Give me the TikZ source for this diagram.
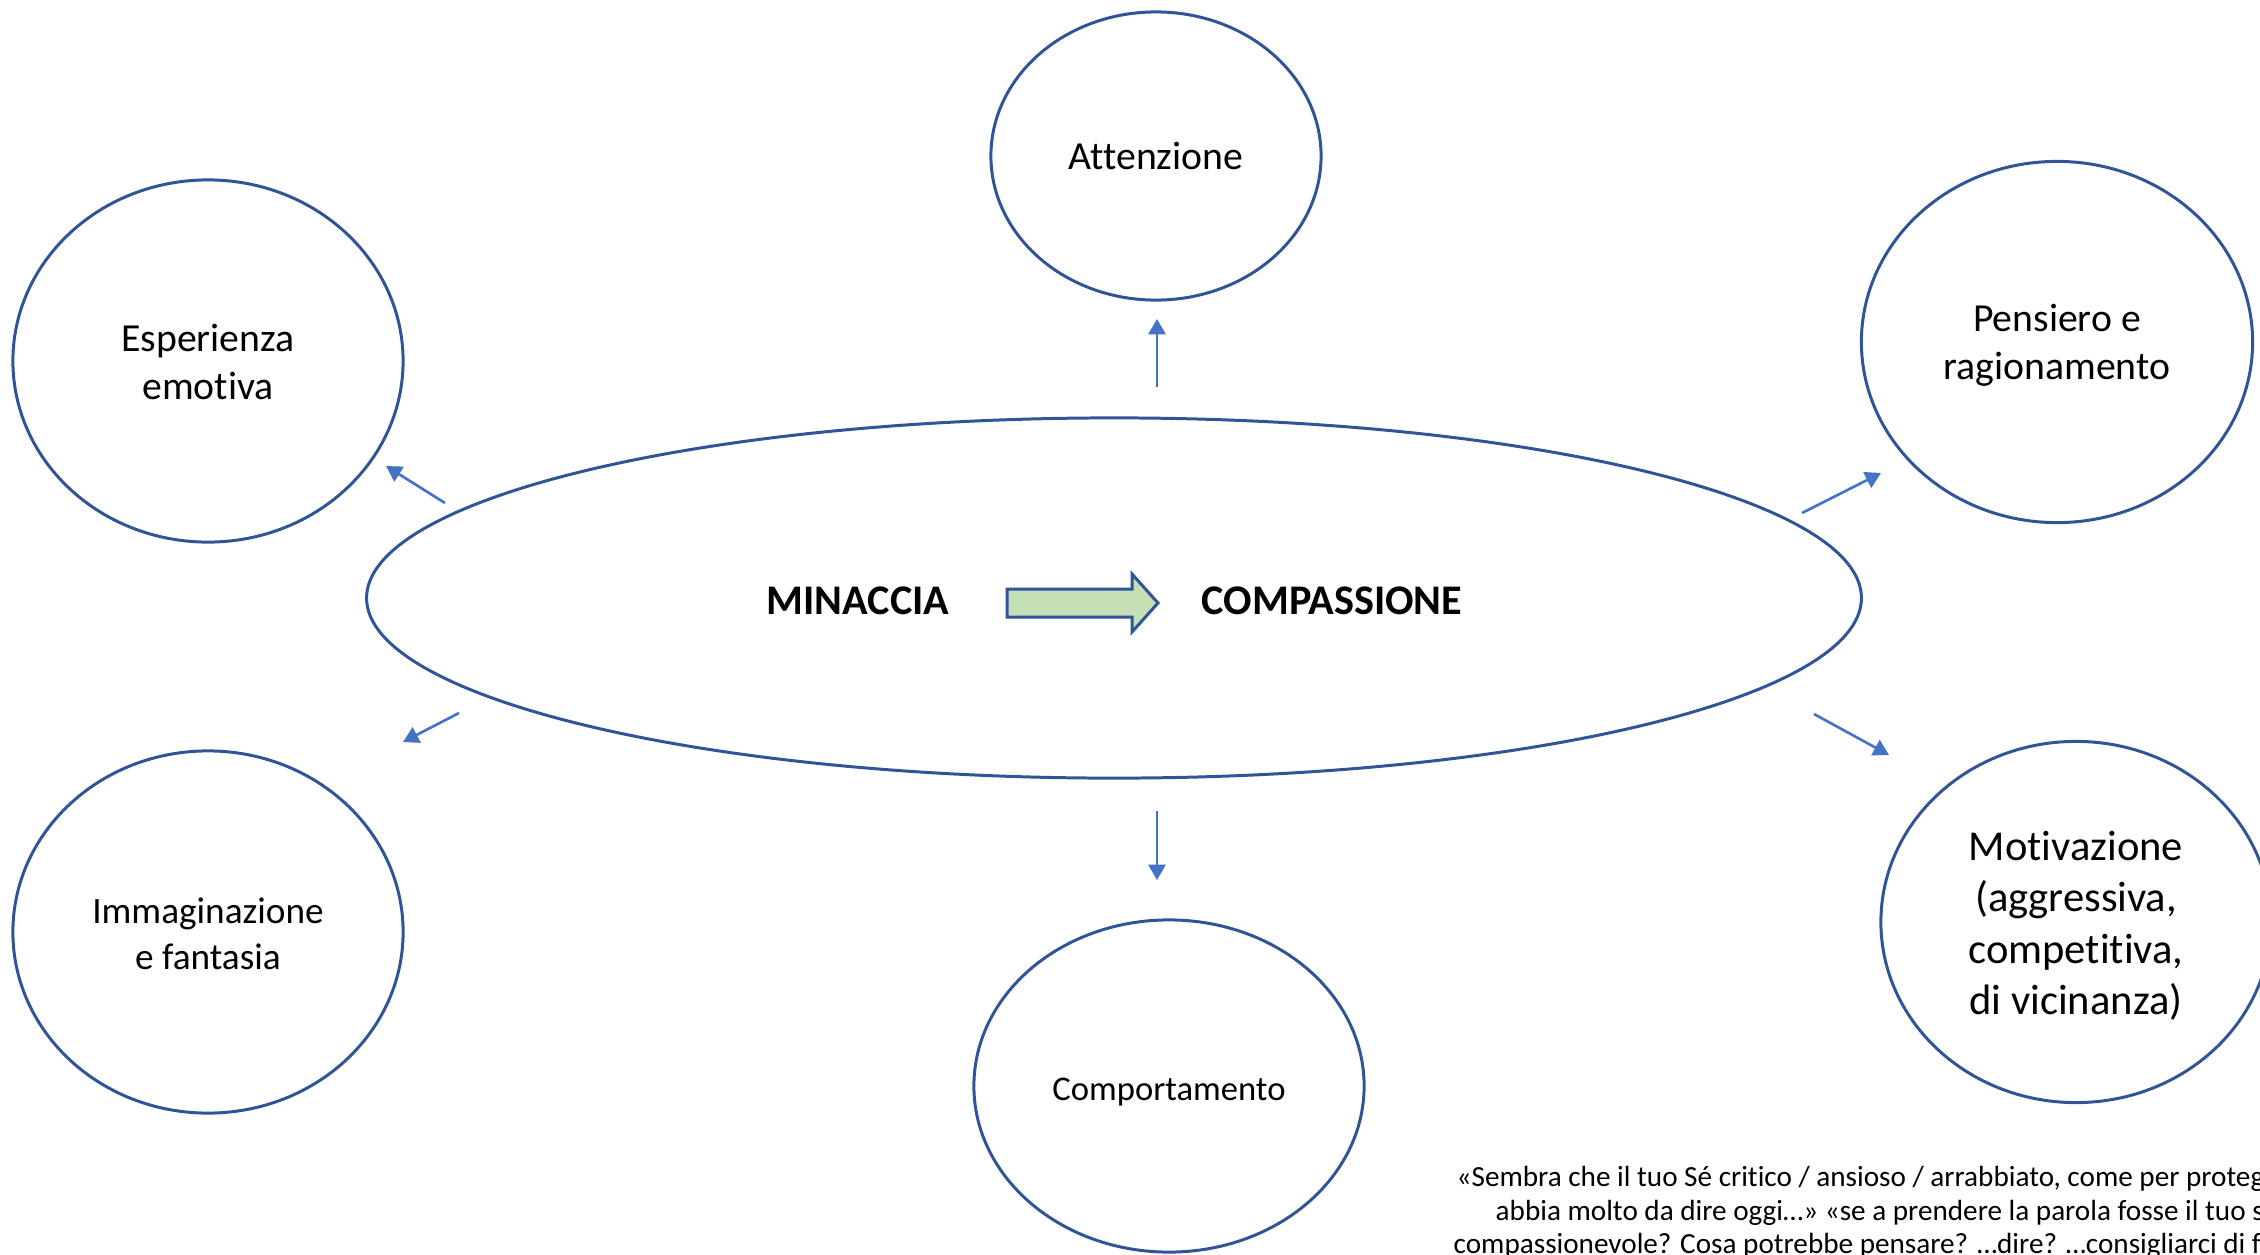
\documentclass[tikz,border=0pt]{standalone}
\usepackage{fontspec}
\setmainfont{Carlito}[Ligatures={NoCommon,NoContextual}]
\usetikzlibrary{shapes.geometric, arrows.meta}
\definecolor{ringblue}{HTML}{2F5597}
\definecolor{arrowblue}{HTML}{4472C4}
\definecolor{shiftgreen}{HTML}{C5E0B4}
\newcommand{\ringbottom}{\rule[-0.26em]{0pt}{0.26em}}
\tikzset{
    ring/.style={draw=ringblue, line width=0.85pt, ellipse, inner sep=0pt, align=center,
        font=\fontsize{11.3}{13.6}\selectfont, execute at begin node={\rule{0pt}{#1}}, execute at end node=\ringbottom},
    ring/.default=0.94em,
    push/.style={draw=arrowblue, line width=0.75pt, -{Triangle[length=4.4pt, width=4.9pt]}},
    keyword/.style={inner sep=0pt, font=\fontsize{12}{14.5}\selectfont\bfseries},
    note/.style={anchor=base west, inner sep=0pt, font=\fontsize{8.3}{9.6}\selectfont}
}
\begin{document}
\begin{tikzpicture}[x=0.01cm, y=-0.01cm]
    \useasboundingbox (0,0) rectangle (2260,1254);

    \node [ring, minimum width=14.94cm, minimum height=3.6cm] (Main) at (1114,598) {};
    \node [keyword] (Threat) at (858,601) {MINACCIA};
    \node [keyword] (Comp) at (1332,601) {COMPASSIONE};
    \draw [draw=ringblue, line width=0.85pt, fill=shiftgreen, line join=miter]
        (1007,589) -- (1132,589) -- (1132,574) -- (1158,603) -- (1132,632) -- (1132,617) -- (1007,617) -- cycle;

    \node [ring, minimum width=3.3cm, minimum height=2.88cm] (Att) at (1156,156) {Attenzione};
    \node [ring=25pt, minimum width=3.9cm, minimum height=3.62cm] (Esp) at (208,361) {Esperienza\\emotiva};
    \node [ring=24.4pt, minimum width=3.91cm, minimum height=3.61cm] (Pens) at (2057,342) {Pensiero e\\ragionamento};
    \node [ring=23.9pt, minimum width=3.9cm, minimum height=3.62cm, font=\fontsize{10.6}{12.9}\selectfont] (Imm) at (208,932) {Immaginazione\\e fantasia};
    \node [ring=1.11em, minimum width=3.9cm, minimum height=3.32cm, font=\fontsize{9.85}{12}\selectfont] (Comport) at (1169,1086) {Comportamento};
    \node [ring=55.8pt, minimum width=3.9cm, minimum height=3.61cm, font=\fontsize{12.1}{14.6}\selectfont] (Motiv) at (2076,922) {Motivazione\\(aggressiva,\\competitiva,\\di vicinanza)};

    \coordinate (upS) at (1157,387);    \coordinate (upE) at (1157,319);
    \coordinate (downS) at (1157,811);  \coordinate (downE) at (1157,880);
    \coordinate (luS) at (445,503);     \coordinate (luE) at (386,466);
    \coordinate (llS) at (459,713);     \coordinate (llE) at (403,742);
    \coordinate (ruS) at (1802,513);    \coordinate (ruE) at (1881,473);
    \coordinate (rlS) at (1814,714);    \coordinate (rlE) at (1889,755);
    \draw [push] (upS) -- (upE); \draw [push] (downS) -- (downE);
    \draw [push] (luS) -- (luE); \draw [push] (llS) -- (llE);
    \draw [push] (ruS) -- (ruE); \draw [push] (rlS) -- (rlE);

    \node [note] (Quote1) at (1456,1186) {«Sembra che il tuo Sé critico / ansioso / arrabbiato, come per proteg};
    \node [note] (Quote2) at (1495,1220) {abbia molto da dire oggi…» «se a prendere la parola fosse il tuo s};
    \node [note] (Quote3) at (1453,1253) {compassionevole? Cosa potrebbe pensare? …dire? …consigliarci di fa};
\end{tikzpicture}
\end{document}
